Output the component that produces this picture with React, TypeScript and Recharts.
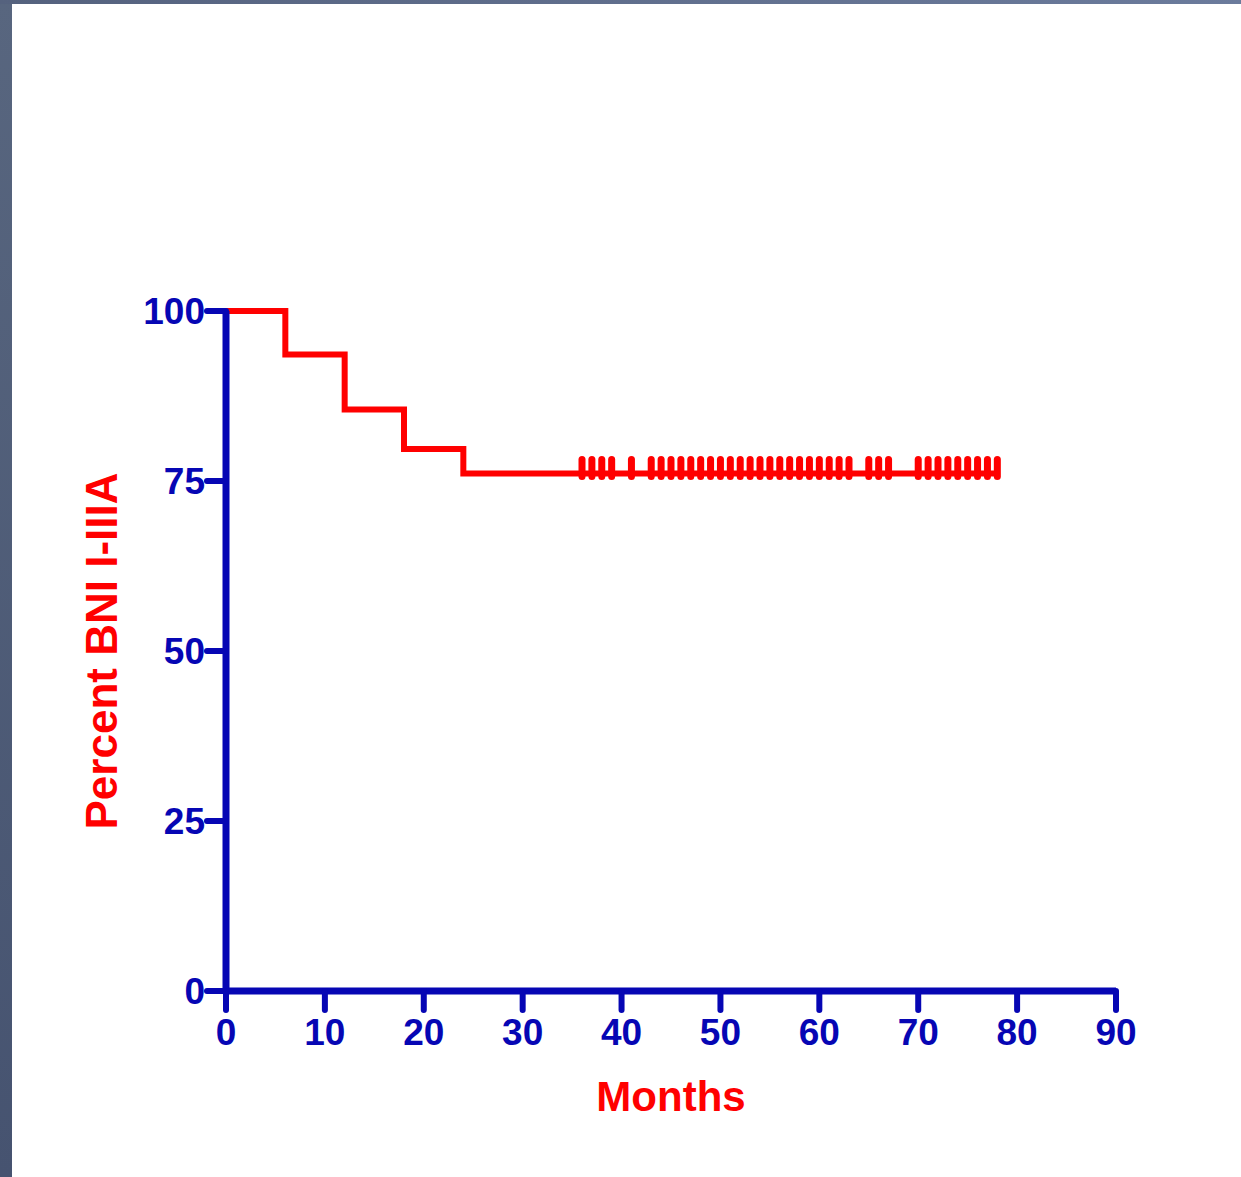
import { ComposedChart, Line, Scatter, XAxis, YAxis } from "recharts";

// Kaplan-Meier steps (month -> percent)
const stepMonths = [0, 6, 12, 18, 24, 78];
const stepPercent = [100, 93.6, 85.5, 79.7, 76.1, 76.1];

// censored follow-up times (tick marks on the curve)
const censorMonths = [
  36, 37, 38, 39, 41, 43, 44, 45, 46, 47, 48, 49, 50, 51, 52, 53, 54, 55, 56, 57, 58, 59, 60, 61,
  62, 63, 65, 66, 67, 70, 71, 72, 73, 74, 75, 76, 77, 78,
];
const censorLevel = 76.1;

const xTicks = [0, 10, 20, 30, 40, 50, 60, 70, 80, 90];
const yTicks = [0, 25, 50, 75, 100];

const BLUE = "#0606b4";
const RED = "#ff0000";
const FONT = "'Liberation Sans', Arial, sans-serif";

const steps = stepMonths.map((m, i) => ({ x: m, y: stepPercent[i] }));
const censors = censorMonths.map((m) => ({ x: m, y: censorLevel }));

const TICK = { fill: BLUE, fontSize: 37, fontWeight: 700, fontFamily: FONT };
const AXIS_LINE = { stroke: BLUE, strokeWidth: 7 };
const TICK_LINE = { stroke: BLUE, strokeWidth: 6, strokeLinecap: "round" as const };

function CensorMark(props: any) {
  const { cx, cy } = props;
  if (cx == null || cy == null) return <g />;
  return (
    <line x1={cx} x2={cx} y1={cy + 3} y2={cy - 14} stroke={RED} strokeWidth={7} strokeLinecap="round" />
  );
}

export default function App() {
  return (
    <div
      style={{
        position: "absolute",
        left: 0,
        top: 0,
        width: 1241,
        height: 1177,
        background: "linear-gradient(to bottom, #58667f, #465370)",
      }}
    >
      <div
        style={{
          position: "absolute",
          left: 0,
          top: 0,
          width: 1241,
          height: 4,
          background: "linear-gradient(to right, #55627e, #6b7b9c)",
        }}
      />
      <div style={{ position: "absolute", left: 12, top: 4, right: 0, bottom: 0, background: "#fff" }} />
      <div style={{ position: "absolute", left: 0, top: 0 }}>
        <ComposedChart width={1241} height={1177} margin={{ top: 311, right: 125, bottom: 0, left: 0 }}>
          <XAxis
            dataKey="x"
            type="number"
            domain={[0, 90]}
            ticks={xTicks}
            height={186}
            tick={TICK}
            tickSize={19}
            tickMargin={9}
            axisLine={AXIS_LINE}
            tickLine={TICK_LINE}
            label={{
              value: "Months",
              position: "insideBottom",
              offset: 66,
              style: { fill: RED, fontSize: 42, fontWeight: 700, fontFamily: FONT },
            }}
          />
          <YAxis
            dataKey="y"
            type="number"
            domain={[0, 100]}
            ticks={yTicks}
            width={226}
            tick={TICK}
            tickSize={19}
            tickMargin={2}
            axisLine={AXIS_LINE}
            tickLine={TICK_LINE}
            label={{
              value: "Percent BNI I-IIIA",
              angle: -90,
              position: "insideLeft",
              offset: 101,
              style: { fill: RED, fontSize: 44, fontWeight: 700, fontFamily: FONT, textAnchor: "middle" },
            }}
          />
          <Line
            data={steps}
            dataKey="y"
            type="stepAfter"
            stroke={RED}
            strokeWidth={6}
            dot={false}
            activeDot={false}
            isAnimationActive={false}
          />
          <Scatter data={censors} dataKey="y" shape={CensorMark} isAnimationActive={false} />
        </ComposedChart>
      </div>
    </div>
  );
}
